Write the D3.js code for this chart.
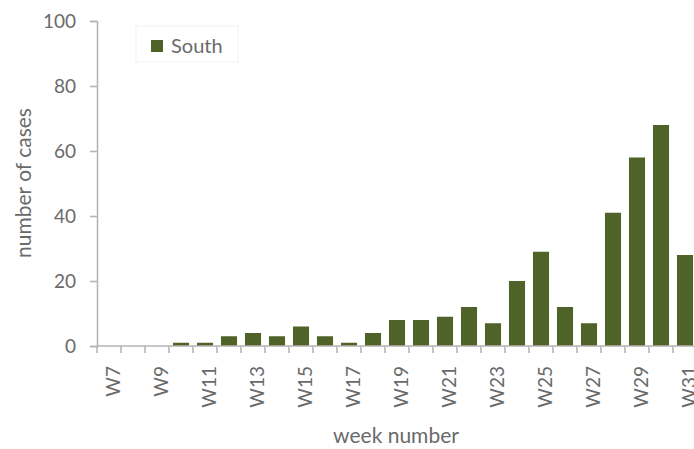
<!DOCTYPE html>
<html><head><meta charset="utf-8">
<script src="https://cdn.jsdelivr.net/npm/d3@7"></script>
<style>
html,body{margin:0;padding:0;background:#fff;}
svg{display:block;}
text{font-family:Lato,"Open Sans",sans-serif;fill:#6a6a6a;}
</style></head>
<body><svg id="c" width="694" height="449"></svg>
<script>
const weeks = ["W7","W8","W9","W10","W11","W12","W13","W14","W15","W16","W17","W18","W19","W20","W21","W22","W23","W24","W25","W26","W27","W28","W29","W30","W31"];
const south = [0,0,0,1,1,3,4,3,6,3,1,4,8,8,9,12,7,20,29,12,7,41,58,68,28];
const yTicks = [0,20,40,60,80,100];
const seriesName = "South";

const svg = d3.select("#c");
const pad = 0.33;
const x = d3.scaleBand().domain(weeks).range([97, 697]).paddingInner(pad).paddingOuter(pad/2);
const y = d3.scaleLinear().domain([0,100]).range([346, 21]);
const step = x.step();
const axisColor = "#b3b3b3";

// y axis
const ya = svg.append("g").attr("transform","translate(97,0)")
  .call(d3.axisLeft(y).tickValues(yTicks).tickSize(7).tickPadding(14));
ya.select(".domain").attr("stroke",axisColor).attr("stroke-width",1.5);
ya.selectAll(".tick line").attr("stroke",axisColor).attr("stroke-width",1.5);
ya.selectAll(".tick text").style("font-size","19px").style("font-family","Lato").attr("fill","#666");

// bars
svg.append("g").selectAll("rect").data(south).join("rect")
  .attr("x",(d,i)=>x(weeks[i]))
  .attr("width",x.bandwidth())
  .attr("y",d=>y(d))
  .attr("height",d=>y(0)-y(d))
  .attr("fill","#4f6228");

// x axis
const xa = svg.append("g").attr("transform","translate(0,346)")
  .call(d3.axisBottom(x).tickSize(0).tickFormat((d,i)=> i%2===0 ? d : ""));
xa.select(".domain").remove();
svg.append("line").attr("x1",97).attr("x2",697).attr("y1",346).attr("y2",346)
  .attr("stroke",axisColor).attr("stroke-width",1.5);
svg.append("g").selectAll("line").data(weeks).join("line")
  .attr("x1",d=>x(d)-step*pad/2).attr("x2",d=>x(d)-step*pad/2)
  .attr("y1",346).attr("y2",353)
  .attr("stroke",axisColor).attr("stroke-width",1.5);
xa.selectAll(".tick text")
  .style("font-size","19px").style("font-family","Lato").attr("fill","#666")
  .attr("text-anchor","end")
  .attr("transform","translate(4,0) rotate(-90)")
  .attr("x",-20).attr("y",0).attr("dy","0.35em");

// axis titles
svg.append("text").attr("x",396).attr("y",443).attr("text-anchor","middle")
  .style("font-size","21px").text("week number");
svg.append("text").attr("transform","translate(31,183) rotate(-90)").attr("text-anchor","middle")
  .style("font-size","21px").text("number of cases");

// legend
const lg = svg.append("g");
lg.append("rect").attr("x",136).attr("y",26).attr("width",102).attr("height",36)
  .attr("fill","none").attr("stroke","#f2f2f2");
lg.append("rect").attr("x",151).attr("y",40).attr("width",12).attr("height",12).attr("fill","#4f6228");
lg.append("text").attr("x",171).attr("y",53).style("font-size","20px").text(seriesName);
</script></body></html>
